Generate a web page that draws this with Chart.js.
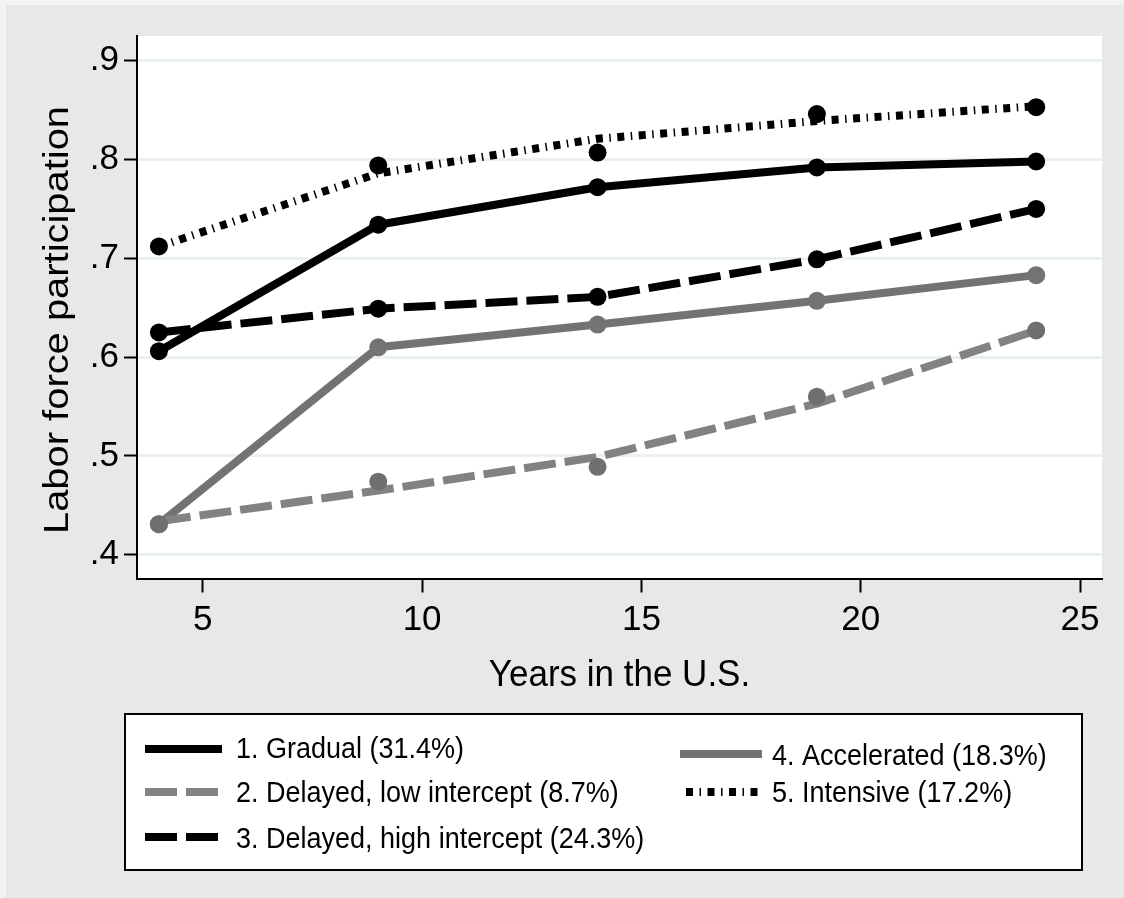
<!DOCTYPE html>
<html>
<head>
<meta charset="utf-8">
<script src="https://cdn.jsdelivr.net/npm/chart.js@4/dist/chart.umd.min.js"></script>
<style>
  html, body { margin: 0; background: #e8e8e8; }
  canvas { display: block; }
</style>
</head>
<body>
<canvas id="chart" width="1124" height="898"></canvas>
<script>
// Labor force participation by years in the U.S., five trajectory groups.
// Dots = observed shares, lines = fitted trajectories.
const years = [4, 9, 14, 19, 24]
const xTicks = [5, 10, 15, 20, 25]
const yTicks = [0.4, 0.5, 0.6, 0.7, 0.8, 0.9]

const gradualObs = [0.606, 0.734, 0.772, 0.792, 0.798]
const gradualFit = [0.606, 0.734, 0.772, 0.792, 0.798]
const delayedLowObs = [0.431, 0.474, 0.489, 0.560, 0.627]
const delayedLowFit = [0.434, 0.465, 0.499, 0.553, 0.627]
const delayedHighObs = [0.625, 0.649, 0.661, 0.699, 0.750]
const delayedHighFit = [0.625, 0.649, 0.661, 0.699, 0.750]
const acceleratedObs = [0.431, 0.610, 0.633, 0.657, 0.683]
const acceleratedFit = [0.431, 0.610, 0.633, 0.657, 0.683]
const intensiveObs = [0.712, 0.794, 0.807, 0.846, 0.853]
const intensiveFit = [0.712, 0.786, 0.821, 0.839, 0.854]

const labels = [
  "1. Gradual (31.4%)",
  "2. Delayed, low intercept (8.7%)",
  "3. Delayed, high intercept (24.3%)",
  "4. Accelerated (18.3%)",
  "5. Intensive (17.2%)"
]

const xTitle = "Years in the U.S."
const yTitle = "Labor force participation"

const FONT = "'Liberation Sans', Arial, Helvetica, sans-serif"
Chart.defaults.font.family = FONT
Chart.defaults.color = "#000"

const series = [
  { label: labels[0], obs: gradualObs, fit: gradualFit, color: "#000000", dot: "#000000", dash: [] },
  { label: labels[1], obs: delayedLowObs, fit: delayedLowFit, color: "#828282", dot: "#6f6f6f", dash: [32, 9] },
  { label: labels[2], obs: delayedHighObs, fit: delayedHighFit, color: "#000000", dot: "#000000", dash: [32, 9] },
  { label: labels[3], obs: acceleratedObs, fit: acceleratedFit, color: "#737373", dot: "#737373", dash: [] },
  { label: labels[4], obs: intensiveObs, fit: intensiveFit, color: "#000000", dot: "#000000", dash: [7, 6.5, 1.5, 6.5] }
]

const toPoints = (ys) => years.map((x, i) => ({ x, y: ys[i] }))

const datasets = []
series.forEach((s) => {
  datasets.push({
    label: s.label,
    data: toPoints(s.fit),
    borderColor: s.color,
    borderWidth: 8,
    borderDash: s.dash,
    borderCapStyle: "butt",
    borderJoinStyle: "round",
    pointRadius: 0,
    tension: 0,
    order: 1
  })
  datasets.push({
    label: s.label + " (observed)",
    data: toPoints(s.obs),
    showLine: false,
    pointRadius: 9,
    pointBackgroundColor: s.dot,
    pointBorderColor: s.dot,
    pointBorderWidth: 0,
    order: 0
  })
})

// legend slots, Stata style: three rows on the left, two on the right
const legendBox = { left: 125, top: 714, right: 1082, bottom: 870 }
const legendSlots = [
  { x: 145, w: 77, y: 749, base: 758, gap: 14 },
  { x: 145, w: 77, y: 792, base: 802, gap: 14 },
  { x: 145, w: 77, y: 837, base: 848, gap: 14 },
  { x: 680, w: 82, y: 754, base: 765, gap: 10 },
  { x: 686, w: 76, y: 792, base: 802, gap: 10 }
]

function stretchedText(ctx, text, x, y, rot, sx, sy) {
  ctx.save()
  ctx.translate(x, y)
  ctx.rotate(rot)
  ctx.scale(sx, sy)
  ctx.fillText(text, 0, 0)
  ctx.restore()
}

const stataFrame = {
  id: "stataFrame",
  beforeDraw(chart) {
    const { ctx, chartArea: a } = chart
    ctx.save()
    ctx.fillStyle = "#f3f3f3"
    ctx.fillRect(0, 0, chart.width, chart.height)
    ctx.fillStyle = "#e8e8e8"
    ctx.fillRect(6, 5, chart.width - 6, chart.height - 5)
    ctx.fillStyle = "#ffffff"
    ctx.fillRect(a.left, a.top, a.right - a.left, a.bottom - a.top)
    ctx.restore()
  },
  afterDraw(chart) {
    const { ctx, chartArea: a } = chart
    ctx.save()
    ctx.fillStyle = "#000"

    // axis titles
    ctx.font = `35px ${FONT}`
    ctx.textAlign = "center"
    ctx.textBaseline = "alphabetic"
    stretchedText(ctx, xTitle, (a.left + a.right) / 2, 686, 0, 1, 1.05)
    stretchedText(ctx, yTitle, 68, 320, -Math.PI / 2, 1.14, 1)

    // legend
    const b = legendBox
    ctx.fillStyle = "#fff"
    ctx.fillRect(b.left, b.top, b.right - b.left, b.bottom - b.top)
    ctx.strokeStyle = "#000"
    ctx.lineWidth = 2
    ctx.strokeRect(b.left, b.top, b.right - b.left, b.bottom - b.top)

    ctx.font = `27px ${FONT}`
    ctx.textAlign = "left"
    series.forEach((s, i) => {
      const slot = legendSlots[i]
      ctx.beginPath()
      ctx.setLineDash(s.dash)
      ctx.lineCap = "butt"
      ctx.strokeStyle = s.color
      ctx.lineWidth = 8
      ctx.moveTo(slot.x, slot.y)
      ctx.lineTo(slot.x + slot.w, slot.y)
      ctx.stroke()
      ctx.setLineDash([])
      ctx.fillStyle = "#000"
      stretchedText(ctx, s.label, slot.x + slot.w + slot.gap, slot.base, 0, 1, 1.12)
    })
    ctx.restore()
  }
}

new Chart(document.getElementById("chart"), {
  type: "line",
  data: { datasets },
  options: {
    responsive: false,
    animation: false,
    devicePixelRatio: 1,
    layout: { padding: { left: 0, top: 36, right: 22, bottom: 259.5 } },
    plugins: {
      legend: { display: false },
      tooltip: { enabled: false }
    },
    scales: {
      x: {
        type: "linear",
        min: 3.5,
        max: 25.5,
        afterBuildTicks: (scale) => { scale.ticks = xTicks.map((v) => ({ value: v })) },
        afterFit: (scale) => { scale.height = 60 },
        grid: { drawOnChartArea: false, drawTicks: true, tickLength: 14, tickWidth: 2, tickColor: "#000" },
        border: { display: true, color: "#000", width: 2 },
        ticks: { font: { size: 35 }, color: "#000", padding: 7, autoSkip: false, maxRotation: 0 }
      },
      y: {
        type: "linear",
        min: 0.376,
        max: 0.925,
        afterBuildTicks: (scale) => { scale.ticks = yTicks.map((v) => ({ value: v })) },
        afterFit: (scale) => { scale.width = 137 },
        grid: { color: "#e9f1f2", lineWidth: 3, drawTicks: true, tickLength: 13, tickWidth: 2, tickColor: "#000" },
        border: { display: true, color: "#000", width: 2 },
        ticks: {
          font: { size: 35 },
          color: "#000",
          padding: 5,
          callback: (v) => String(v).replace(/^0/, "")
        }
      }
    }
  },
  plugins: [stataFrame]
})
</script>
</body>
</html>
